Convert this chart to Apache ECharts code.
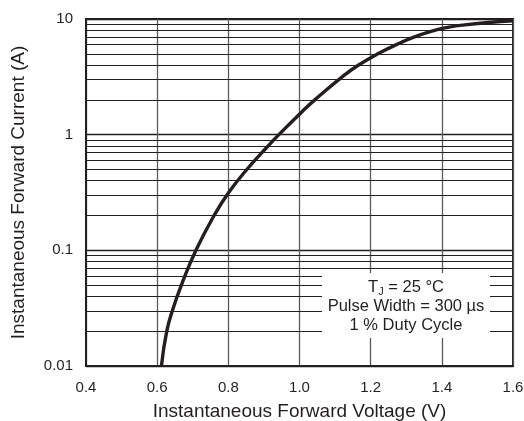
<!DOCTYPE html>
<html>
<head>
<meta charset="utf-8">
<script src="https://cdn.jsdelivr.net/npm/echarts@6/dist/echarts.min.js"></script>
<style>
html,body{margin:0;padding:0;background:#fff;}
#c{width:524px;height:421px;}
</style>
</head>
<body>
<div id="c"></div>
<script>
// Forward voltage (V) vs instantaneous forward current (A)
const voltage = [0.612, 0.627, 0.645, 0.668, 0.709, 0.760, 0.801, 0.852, 0.911, 0.942, 1.007, 1.043, 1.120, 1.165, 1.220, 1.287, 1.327, 1.377, 1.420, 1.464, 1.530, 1.600];
const current = [0.01, 0.02, 0.0316, 0.05, 0.1, 0.2, 0.316, 0.5, 0.794, 1.0, 1.58, 2.0, 3.16, 3.98, 5.0, 6.3, 7.08, 7.94, 8.5, 8.9, 9.33, 9.66];
const minorGrid = [0.02,0.03,0.04,0.05,0.06,0.07,0.08,0.09,0.2,0.3,0.4,0.5,0.6,0.7,0.8,0.9,2,3,4,5,6,7,8,9];
const xTicks = ['0.4','0.6','0.8','1.0','1.2','1.4','1.6'];
const yTicks = ['0.01','0.1','1','10'];
const noteLines = ['T{s|J} = 25 °C', 'Pulse Width = 300 µs', '1 % Duty Cycle'];

const FONT = '"Liberation Sans", Arial, Helvetica, sans-serif';
const ink = '#231f20';
const chart = echarts.init(document.getElementById('c'), null, {renderer: 'canvas'});

const pts = voltage.map((v, i) => [v, current[i]]);

chart.setOption({
  backgroundColor: '#fff',
  animation: false,
  grid: {left: 86, right: 11, top: 19, bottom: 55, show: true, borderColor: ink, borderWidth: 2,
         backgroundColor: 'transparent', containLabel: false, outerBoundsMode: 'none'},
  xAxis: {
    type: 'value', min: 0.4, max: 1.6, interval: 0.2,
    name: 'Instantaneous Forward Voltage (V)', nameLocation: 'middle', nameGap: 36,
    nameTextStyle: {fontFamily: FONT, fontSize: 19, color: ink},
    axisLine: {show: true, lineStyle: {color: ink, width: 2}},
    axisTick: {show: false},
    axisLabel: {fontFamily: FONT, fontSize: 15, color: ink, margin: 14,
      formatter: v => { const s = v.toFixed(1); return xTicks.includes(s) ? s : ''; }},
    splitLine: {show: true, lineStyle: {color: '#5a5a5a', width: 1.3}}
  },
  yAxis: {
    type: 'log', logBase: 10, min: 0.01, max: 10,
    name: 'Instantaneous Forward Current (A)', nameLocation: 'middle', nameGap: 58,
    nameTextStyle: {fontFamily: FONT, fontSize: 19, color: ink},
    axisLine: {show: true, lineStyle: {color: ink, width: 2}},
    axisTick: {show: false},
    axisLabel: {fontFamily: FONT, fontSize: 15, color: ink, margin: 13,
      formatter: v => { const s = String(+v.toPrecision(3)); return yTicks.includes(s) ? s : ''; }},
    splitLine: {show: true, lineStyle: {color: ink, width: 1.3}},
    minorTick: {show: false}, minorSplitLine: {show: false}
  },
  series: [{
    type: 'line', data: pts, smooth: 0.5, symbol: 'none',
    lineStyle: {color: ink, width: 3.4}, z: 5,
    markLine: {
      silent: true, symbol: 'none', animation: false,
      label: {show: false},
      lineStyle: {color: ink, width: 1.2, type: 'solid'},
      data: minorGrid.map(v => ({yAxis: v})),
      z: 1
    }
  }],
  graphic: [{
    type: 'group', z: 100,
    children: [
      {type: 'rect', shape: {x: 322, y: 273, width: 168, height: 65}, style: {fill: '#fff'}, z: 100},
      ...noteLines.map((t, i) => ({
        type: 'text', z: 101,
        style: {
          x: 406, y: 287 + i * 19.3, text: t, align: 'center', verticalAlign: 'middle',
          fontFamily: FONT, fontSize: 16.5, fill: ink,
          rich: {s: {fontSize: 11, fontFamily: FONT, fill: ink, verticalAlign: 'bottom', padding: [9, 0, 0, 0]}}
        }
      }))
    ]
  }]
});
</script>
</body>
</html>
